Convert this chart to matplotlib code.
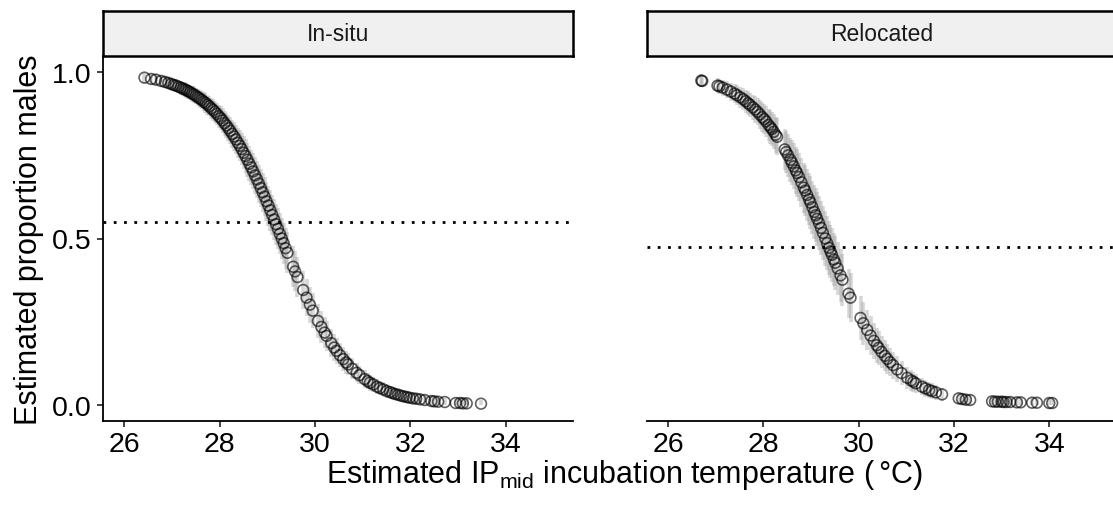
import matplotlib
matplotlib.use("Agg")
import matplotlib.pyplot as plt
import numpy as np

plt.rcParams['font.family'] = ['Liberation Sans', 'DejaVu Sans']
plt.rcParams['mathtext.fontset'] = 'custom'
plt.rcParams['mathtext.rm'] = 'Liberation Sans'

# ---------------- data ----------------
panels = ["In-situ", "Relocated"]
hline_values = [0.55, 0.474]
x_ticks = [26, 28, 30, 32, 34]
y_ticks = [0.0, 0.5, 1.0]
y_tick_labels = ["0.0", "0.5", "1.0"]

insitu_temp = [26.42, 26.56, 26.66, 26.77, 26.85, 26.92, 26.98, 27.03, 27.08, 27.13,
               27.18, 27.22, 27.26, 27.30, 27.34, 27.38, 27.42, 27.46, 27.50, 27.54,
               27.58, 27.62, 27.66, 27.70, 27.74, 27.78, 27.82, 27.86, 27.90, 27.94,
               27.98, 28.02, 28.06, 28.10, 28.14, 28.18, 28.22, 28.26, 28.30, 28.34,
               28.38, 28.42, 28.46, 28.50, 28.54, 28.58, 28.62, 28.66, 28.70, 28.74,
               28.78, 28.82, 28.86, 28.90, 28.94, 28.98, 29.02, 29.06, 29.10, 29.14,
               29.18, 29.22, 29.26, 29.30, 29.34, 29.38, 29.42, 29.54, 29.58, 29.63,
               29.75, 29.82, 29.89, 29.95, 30.06, 30.13, 30.20, 30.24, 30.34, 30.40,
               30.45, 30.52, 30.59, 30.65, 30.69, 30.78, 30.87, 30.93, 31.04, 31.10,
               31.15, 31.22, 31.30, 31.36, 31.43, 31.50, 31.57, 31.62, 31.68, 31.74,
               31.80, 31.86, 31.92, 31.98, 32.05, 32.12, 32.20, 32.30, 32.44, 32.50,
               32.58, 32.72, 32.95, 33.04, 33.10, 33.18, 33.48]
insitu_prop = [0.984, 0.980, 0.978, 0.974, 0.971, 0.968, 0.965, 0.962, 0.960, 0.957,
               0.954, 0.951, 0.949, 0.946, 0.943, 0.940, 0.936, 0.933, 0.929, 0.925,
               0.921, 0.917, 0.912, 0.908, 0.903, 0.898, 0.892, 0.887, 0.881, 0.875,
               0.868, 0.862, 0.855, 0.847, 0.840, 0.832, 0.824, 0.815, 0.807, 0.798,
               0.788, 0.779, 0.769, 0.758, 0.748, 0.737, 0.725, 0.714, 0.702, 0.690,
               0.678, 0.665, 0.652, 0.639, 0.626, 0.612, 0.599, 0.585, 0.571, 0.557,
               0.543, 0.529, 0.514, 0.500, 0.486, 0.471, 0.457, 0.415, 0.401, 0.384,
               0.345, 0.322, 0.301, 0.283, 0.252, 0.234, 0.217, 0.207, 0.185, 0.172,
               0.162, 0.149, 0.137, 0.127, 0.121, 0.108, 0.096, 0.089, 0.077, 0.071,
               0.066, 0.061, 0.054, 0.050, 0.046, 0.041, 0.038, 0.035, 0.032, 0.030,
               0.027, 0.025, 0.023, 0.021, 0.019, 0.018, 0.016, 0.014, 0.011, 0.010,
               0.009, 0.008, 0.005, 0.005, 0.004, 0.004, 0.003]
insitu_err = [0.015, 0.016, 0.016, 0.017, 0.018, 0.018, 0.019, 0.019, 0.020, 0.020,
              0.021, 0.021, 0.022, 0.022, 0.023, 0.023, 0.024, 0.025, 0.025, 0.026,
              0.027, 0.027, 0.028, 0.029, 0.030, 0.030, 0.031, 0.032, 0.033, 0.034,
              0.035, 0.036, 0.037, 0.038, 0.039, 0.040, 0.041, 0.042, 0.043, 0.044,
              0.045, 0.046, 0.048, 0.049, 0.050, 0.051, 0.052, 0.053, 0.054, 0.055,
              0.056, 0.057, 0.057, 0.058, 0.059, 0.059, 0.060, 0.061, 0.061, 0.061,
              0.062, 0.062, 0.062, 0.062, 0.062, 0.062, 0.062, 0.061, 0.060, 0.059,
              0.057, 0.056, 0.054, 0.053, 0.050, 0.048, 0.046, 0.045, 0.042, 0.040,
              0.039, 0.037, 0.036, 0.034, 0.033, 0.031, 0.029, 0.028, 0.026, 0.025,
              0.024, 0.023, 0.022, 0.022, 0.021, 0.020, 0.019, 0.019, 0.018, 0.018,
              0.017, 0.017, 0.017, 0.016, 0.016, 0.015, 0.015, 0.015, 0.014, 0.014,
              0.014, 0.013, 0.013, 0.013, 0.013, 0.013, 0.012]

reloc_temp = [26.70, 26.72, 27.04, 27.08, 27.15, 27.24, 27.32, 27.40, 27.45, 27.52,
              27.58, 27.63, 27.68, 27.72, 27.78, 27.83, 27.88, 27.93, 27.98, 28.02,
              28.06, 28.11, 28.15, 28.18, 28.22, 28.26, 28.29, 28.45, 28.48, 28.52,
              28.57, 28.60, 28.64, 28.68, 28.71, 28.75, 28.80, 28.85, 28.88, 28.92,
              28.96, 28.99, 29.03, 29.07, 29.10, 29.13, 29.17, 29.21, 29.25, 29.30,
              29.34, 29.38, 29.41, 29.44, 29.48, 29.51, 29.56, 29.62, 29.66, 29.79,
              29.83, 30.04, 30.10, 30.18, 30.25, 30.32, 30.38, 30.42, 30.48, 30.55,
              30.60, 30.66, 30.72, 30.81, 30.90, 31.02, 31.10, 31.15, 31.20, 31.33,
              31.40, 31.48, 31.54, 31.62, 31.75, 32.10, 32.17, 32.25, 32.34, 32.80,
              32.86, 32.92, 33.00, 33.04, 33.10, 33.18, 33.32, 33.40, 33.64, 33.74,
              34.00, 34.06]
reloc_prop = [0.975, 0.974, 0.960, 0.958, 0.954, 0.948, 0.942, 0.936, 0.931, 0.925,
              0.919, 0.913, 0.907, 0.902, 0.895, 0.888, 0.881, 0.873, 0.865, 0.859,
              0.852, 0.842, 0.835, 0.829, 0.821, 0.812, 0.806, 0.768, 0.760, 0.750,
              0.737, 0.728, 0.717, 0.705, 0.697, 0.685, 0.669, 0.653, 0.644, 0.631,
              0.618, 0.608, 0.594, 0.580, 0.570, 0.559, 0.546, 0.532, 0.517, 0.500,
              0.486, 0.472, 0.461, 0.451, 0.437, 0.427, 0.410, 0.389, 0.376, 0.334,
              0.322, 0.261, 0.245, 0.225, 0.208, 0.192, 0.179, 0.171, 0.159, 0.147,
              0.138, 0.128, 0.119, 0.106, 0.095, 0.081, 0.073, 0.069, 0.064, 0.054,
              0.049, 0.044, 0.041, 0.037, 0.031, 0.019, 0.017, 0.015, 0.014, 0.010,
              0.009, 0.009, 0.009, 0.008, 0.008, 0.008, 0.007, 0.007, 0.006, 0.006,
              0.005, 0.005]
reloc_err = [0.019, 0.019, 0.023, 0.023, 0.024, 0.026, 0.027, 0.029, 0.030, 0.031,
             0.033, 0.034, 0.036, 0.037, 0.038, 0.040, 0.041, 0.043, 0.045, 0.046,
             0.047, 0.049, 0.051, 0.052, 0.053, 0.055, 0.056, 0.062, 0.063, 0.065,
             0.066, 0.067, 0.069, 0.070, 0.071, 0.072, 0.074, 0.075, 0.076, 0.077,
             0.078, 0.079, 0.080, 0.080, 0.081, 0.081, 0.081, 0.082, 0.082, 0.082,
             0.082, 0.082, 0.081, 0.081, 0.081, 0.081, 0.080, 0.079, 0.078, 0.074,
             0.073, 0.066, 0.064, 0.061, 0.058, 0.055, 0.053, 0.052, 0.049, 0.047,
             0.045, 0.043, 0.041, 0.039, 0.036, 0.033, 0.031, 0.030, 0.029, 0.026,
             0.025, 0.024, 0.023, 0.022, 0.020, 0.017, 0.017, 0.016, 0.016, 0.014,
             0.014, 0.014, 0.014, 0.014, 0.014, 0.014, 0.014, 0.014, 0.013, 0.013,
             0.013, 0.013]

series = [(insitu_temp, insitu_prop, insitu_err), (reloc_temp, reloc_prop, reloc_err)]

# ---------------- layout ----------------
W, H = 1113, 506
fig = plt.figure(figsize=(W / 100, H / 100), dpi=100)

def fx(px):
    return px / W

def fy(py):
    return 1 - py / H

panel_left = [103, 646.5]
panel_w = 470
panel_top, panel_bot = 56.7, 422.3
strip_top = 11.7

xlim = (25.55, 35.41)
ylim = (-0.05, 1.05)
tick_fs = 20.5
title_fs = 22
strip_fs = 16.5

for i, (name, (t, p, e), hv) in enumerate(zip(panels, series, hline_values)):
    ax = fig.add_axes([fx(panel_left[i]), fy(panel_bot), panel_w / W,
                       (panel_bot - panel_top) / H])
    t = np.asarray(t); p = np.asarray(p); e = np.asarray(e)
    lo = np.clip(p - e, 0, 1)
    hi = np.clip(p + e, 0, 1)
    ax.vlines(t, lo, hi, colors='#9a9a9a', alpha=0.4, linewidth=2.6, zorder=1)
    ax.scatter(t, p, s=60, facecolors='none', edgecolors='black', alpha=0.62,
               linewidths=1.2, zorder=2)
    ax.axhline(hv, color='black', linewidth=2.0, linestyle=(0, (1, 2.7)), zorder=3)

    ax.set_xlim(*xlim)
    ax.set_ylim(*ylim)
    ax.set_xticks(x_ticks)
    ax.set_xticklabels([str(v) for v in x_ticks], fontsize=tick_fs, color='black')
    for s in ['top', 'right']:
        ax.spines[s].set_visible(False)
    ax.spines['bottom'].set_linewidth(1.3)
    ax.spines['left'].set_linewidth(1.3)
    ax.tick_params(axis='both', length=4.5, width=1.3, color='#333333', pad=4)
    ax.tick_params(axis='x', pad=2.5)
    if i == 0:
        ax.set_yticks(y_ticks)
        ax.set_yticklabels(y_tick_labels, fontsize=tick_fs, color='black')
    else:
        ax.spines['left'].set_visible(False)
        ax.set_yticks([])

    # strip
    sax = fig.add_axes([fx(panel_left[i]), fy(panel_top), panel_w / W,
                        (panel_top - strip_top) / H])
    sax.set_facecolor('#f0f0f0')
    sax.set_xticks([]); sax.set_yticks([])
    for s in sax.spines.values():
        s.set_linewidth(1.8)
        s.set_color('black')
    sax.text(0.5, 0.5, name, ha='center', va='center', fontsize=strip_fs,
             color='#1a1a1a', transform=sax.transAxes)

fig.text(fx(29), fy((panel_top + panel_bot) / 2), 'Estimated proportion males',
         rotation=90, ha='center', va='center', fontsize=title_fs)
fig.text(fx(625), fy(475),
         r'Estimated IP$_{\mathregular{mid}}$ incubation temperature ($\,$°C)',
         ha='center', va='center', fontsize=title_fs)

fig.savefig('out.png', dpi=100)
